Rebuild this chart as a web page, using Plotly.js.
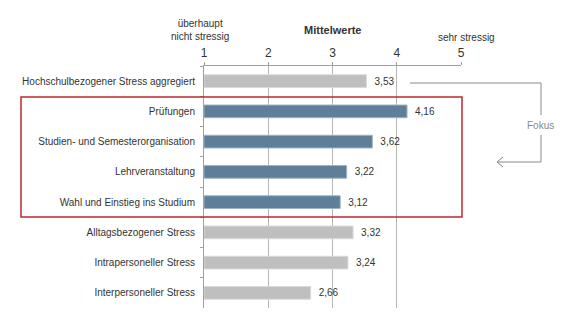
<!DOCTYPE html>
<html>
<head>
<meta charset="utf-8">
<script src="https://cdn.plot.ly/plotly-3.0.1.min.js"></script>
<style>html,body{margin:0;padding:0;background:#fff}#chart{width:572px;height:331px}</style>
</head>
<body>
<div id="chart"></div>
<script>
var categories = [
  "Hochschulbezogener Stress aggregiert",
  "Prüfungen",
  "Studien- und Semesterorganisation",
  "Lehrveranstaltung",
  "Wahl und Einstieg ins Studium",
  "Alltagsbezogener Stress",
  "Intrapersoneller Stress",
  "Interpersoneller Stress"
];
var values = [3.53, 4.16, 3.62, 3.22, 3.12, 3.32, 3.24, 2.66];
var isFocus = [false, true, true, true, true, false, false, false];
var tickValues = [1, 2, 3, 4, 5];
var tickLabels = ["1", "2", "3", "4", "5"];

var grayFill = "#bfbfbf", blueFill = "#5f7e98";
var font = "Liberation Sans, Arial, sans-serif";

var trace = {
  type: "bar",
  orientation: "h",
  y: categories,
  x: values.map(function(v){ return v - 1; }),
  base: 1,
  width: 0.42,
  marker: {
    color: isFocus.map(function(f){ return f ? blueFill : grayFill; }),
    line: {color: isFocus.map(function(f){ return f ? "#9fb4c6" : "#dadada"; }), width: 1}
  },
  text: values.map(function(v){ return "\u2002" + v.toFixed(2).replace(".", ","); }),
  textposition: "outside",
  textfont: {family: font, size: 10, color: "#333333"},
  cliponaxis: false,
  hoverinfo: "none"
};

function px(x){ return (x - 204) / 257; }
function py(y){ return (308 - y) / 242; }

var lineCol = "#8a8a8a";
var layout = {
  width: 572, height: 331,
  margin: {l: 204, r: 111, t: 66, b: 23},
  paper_bgcolor: "#ffffff", plot_bgcolor: "#ffffff",
  separators: ", ",
  showlegend: false,
  font: {family: font, size: 10, color: "#333333"},
  xaxis: {
    side: "top", range: [1, 5], tickvals: tickValues, ticktext: tickLabels,
    showgrid: true, gridcolor: "#b5b5b5", gridwidth: 1,
    showline: true, linecolor: "#a0a0a0", linewidth: 1,
    ticks: "outside", ticklen: 3, tickcolor: "#a0a0a0",
    tickfont: {family: font, size: 12, color: "#333333"},
    zeroline: false, fixedrange: true
  },
  yaxis: {
    autorange: "reversed", type: "category",
    showline: true, linecolor: "#a0a0a0", linewidth: 1,
    ticks: "outside", ticklen: 3, tickcolor: "#a0a0a0", tickson: "boundaries",
    ticklabelstandoff: 6,
    tickfont: {family: font, size: 10, color: "#333333"},
    showgrid: false, zeroline: false, fixedrange: true
  },
  annotations: [
    {xref: "paper", yref: "paper", x: px(332), y: py(30), text: "<b>Mittelwerte</b>", showarrow: false,
     xanchor: "center", yanchor: "middle", font: {family: font, size: 11, color: "#333333"}},
    {xref: "paper", yref: "paper", x: px(200), y: py(30), text: "überhaupt<br>nicht stressig", showarrow: false,
     xanchor: "center", yanchor: "middle", font: {family: font, size: 10, color: "#333333"}},
    {xref: "paper", yref: "paper", x: px(466), y: py(38), text: "sehr stressig", showarrow: false,
     xanchor: "center", yanchor: "middle", font: {family: font, size: 10, color: "#333333"}},
    {xref: "paper", yref: "paper", x: px(540), y: py(125), text: "Fokus", showarrow: false,
     xanchor: "center", yanchor: "middle", font: {family: font, size: 10, color: "#8a8a8a"}}
  ],
  shapes: [
    {type: "rect", xref: "paper", yref: "paper", x0: px(21), x1: px(462), y0: py(217), y1: py(97),
     line: {color: "#c0272d", width: 1.5}, fillcolor: "rgba(0,0,0,0)", layer: "above"},
    {type: "path", xref: "paper", yref: "paper",
     path: "M " + px(410) + "," + py(83) + " L " + px(541) + "," + py(83) + " L " + px(541) + "," + py(115),
     line: {color: lineCol, width: 1}},
    {type: "path", xref: "paper", yref: "paper",
     path: "M " + px(541) + "," + py(135) + " L " + px(541) + "," + py(162) + " L " + px(497) + "," + py(162),
     line: {color: lineCol, width: 1}},
    {type: "path", xref: "paper", yref: "paper",
     path: "M " + px(503) + "," + py(157) + " L " + px(497) + "," + py(162) + " L " + px(503) + "," + py(167),
     line: {color: lineCol, width: 1}}
  ]
};

Plotly.newPlot("chart", [trace], layout, {staticPlot: true, displayModeBar: false});
</script>
</body>
</html>
